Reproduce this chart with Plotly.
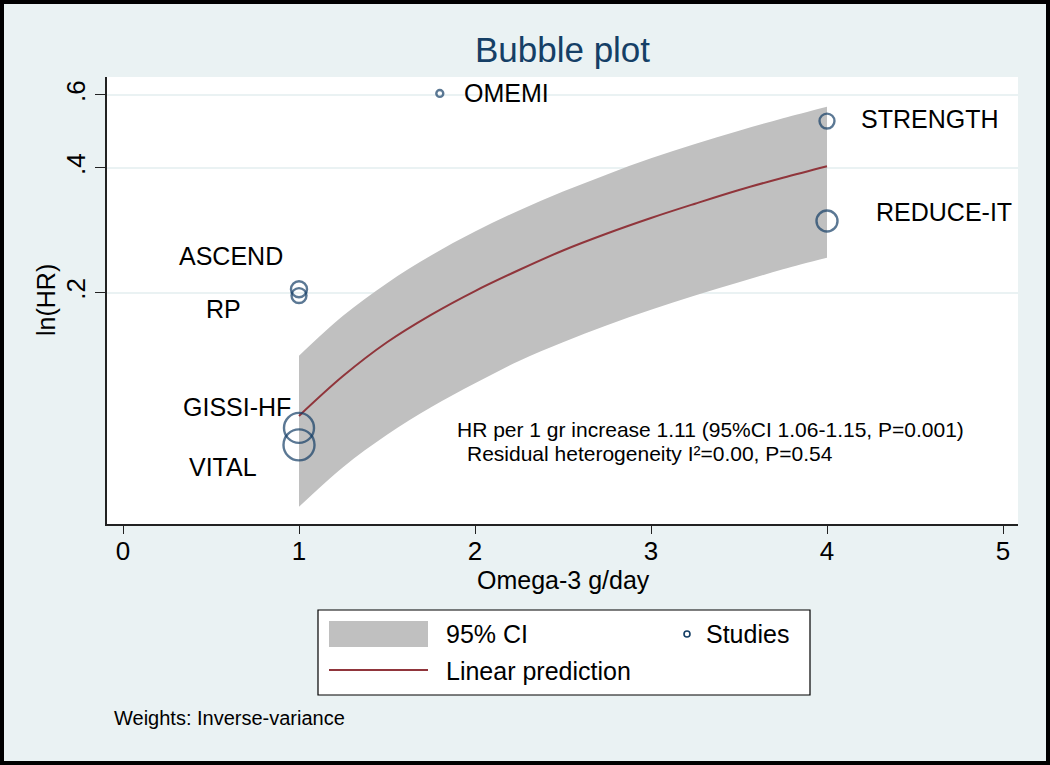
import numpy as np
import plotly.graph_objects as go

# ---------------- data ----------------
studies = ["OMEMI", "STRENGTH", "REDUCE-IT", "ASCEND", "RP", "GISSI-HF", "VITAL"]
dose = [1.8, 4.0, 4.0, 1.0, 1.0, 1.0, 1.0]                     # Omega-3 g/day
lnhr = [0.605, 0.519, 0.298, 0.204, 0.197, 0.0945, 0.086]       # ln(HR)
weights = [1.6, 7.4, 14.6, 8.5, 7.4, 29.8, 31.8]                # inverse-variance weights (relative)

pred_x = [1.0, 1.25, 1.5, 1.75, 2.0, 2.25, 2.5, 2.75, 3.0, 3.25, 3.5, 3.75, 4.0]
pred_y = [0.101, 0.126, 0.152, 0.177, 0.202, 0.227, 0.253, 0.278, 0.303, 0.328, 0.354, 0.379, 0.404]
ci_hi = [0.141, 0.176, 0.211, 0.246, 0.281, 0.316, 0.351, 0.386, 0.422, 0.457, 0.492, 0.527, 0.562]
ci_lo = [0.061, 0.076, 0.091, 0.106, 0.121, 0.137, 0.152, 0.167, 0.182, 0.197, 0.212, 0.228, 0.243]

x_ticks = [0, 1, 2, 3, 4, 5]
y_ticks = [0.2, 0.4, 0.6]
y_ticktext = [".2", ".4", ".6"]

# ---------------- styles ----------------
FONT = "Liberation Sans, Arial, Helvetica, sans-serif"
NAVY = "#153f66"
MAROON = "#90353b"
GRAY = "#c0c0c0"
BG = "#eaf2f3"

# label placement (pixel offsets relative to each marker)
lab_anchor = ["left", "left", "left", "right", "right", "right", "right"]
lab_dx = [22, 32, 47, -14, -56, -6, -40]
lab_dy = [0, 2, 9, 33, -13, 21, -22]

W, H = 1050, 765
ml, mr, mt, mb = 107, 32, 77, 241
pw, ph = W - ml - mr, H - mt - mb

def px2paper_x(px):
    return (px - ml) / pw

def py2paper_y(py):
    return (H - mb - py) / ph

fig = go.Figure()

# CI band
fig.add_trace(go.Scatter(x=pred_x, y=ci_lo, mode="lines", line=dict(width=0, color=GRAY, shape="spline"),
                         showlegend=False, hoverinfo="skip"))
fig.add_trace(go.Scatter(x=pred_x, y=ci_hi, mode="lines", line=dict(width=0, color=GRAY, shape="spline"),
                         fill="tonexty", fillcolor=GRAY, showlegend=False, hoverinfo="skip"))
# prediction line
fig.add_trace(go.Scatter(x=pred_x, y=pred_y, mode="lines",
                         line=dict(width=2, color=MAROON, shape="spline"), showlegend=False))
# studies
sizes = [5.5 * np.sqrt(w) for w in weights]
fig.add_trace(go.Scatter(x=dose, y=lnhr, mode="markers",
                         marker=dict(symbol="circle-open", size=sizes, color=NAVY,
                                     line=dict(width=2.4, color=NAVY)),
                         showlegend=False))

annotations = []
for name, xv, yv, anc, dx, dy in zip(studies, dose, lnhr, lab_anchor, lab_dx, lab_dy):
    annotations.append(dict(x=xv, y=np.log10(yv), xref="x", yref="y", text=name, showarrow=False,
                            xanchor=anc, yanchor="middle", xshift=dx, yshift=dy,
                            font=dict(family=FONT, size=25, color="black")))

# stats text
annotations.append(dict(x=px2paper_x(455), y=py2paper_y(430), xref="paper", yref="paper",
                        text="HR per 1 gr increase 1.11 (95%CI 1.06-1.15, P=0.001)",
                        showarrow=False, xanchor="left", yanchor="middle",
                        font=dict(family=FONT, size=21, color="black")))
annotations.append(dict(x=px2paper_x(465), y=py2paper_y(453), xref="paper", yref="paper",
                        text="Residual heterogeneity I²=0.00, P=0.54",
                        showarrow=False, xanchor="left", yanchor="middle",
                        font=dict(family=FONT, size=21, color="black")))

# axis titles
annotations.append(dict(x=px2paper_x(563), y=py2paper_y(580), xref="paper", yref="paper",
                        text="Omega-3 g/day", showarrow=False, xanchor="center", yanchor="middle",
                        font=dict(family=FONT, size=25, color="black")))
annotations.append(dict(x=px2paper_x(46), y=py2paper_y(300), xref="paper", yref="paper",
                        text="ln(HR)", showarrow=False, xanchor="center", yanchor="middle",
                        textangle=-90, font=dict(family=FONT, size=25, color="black")))

# legend (drawn manually)
annotations.append(dict(x=px2paper_x(444), y=py2paper_y(634), xref="paper", yref="paper",
                        text="95% CI", showarrow=False, xanchor="left", yanchor="middle",
                        font=dict(family=FONT, size=25, color="black")))
annotations.append(dict(x=px2paper_x(444), y=py2paper_y(671), xref="paper", yref="paper",
                        text="Linear prediction", showarrow=False, xanchor="left", yanchor="middle",
                        font=dict(family=FONT, size=25, color="black")))
annotations.append(dict(x=px2paper_x(704), y=py2paper_y(634), xref="paper", yref="paper",
                        text="Studies", showarrow=False, xanchor="left", yanchor="middle",
                        font=dict(family=FONT, size=25, color="black")))
# note
annotations.append(dict(x=px2paper_x(112), y=py2paper_y(718), xref="paper", yref="paper",
                        text="Weights: Inverse-variance", showarrow=False, xanchor="left", yanchor="middle",
                        font=dict(family=FONT, size=20, color="black")))

shapes = [
    # outer border
    dict(type="rect", xref="paper", yref="paper",
         x0=px2paper_x(2), x1=px2paper_x(1048), y0=py2paper_y(763), y1=py2paper_y(2),
         line=dict(color="black", width=4), fillcolor="rgba(0,0,0,0)", layer="above"),
    # legend box
    dict(type="rect", xref="paper", yref="paper",
         x0=px2paper_x(318), x1=px2paper_x(810), y0=py2paper_y(695), y1=py2paper_y(610),
         line=dict(color="black", width=1.2), fillcolor="white", layer="below"),
    dict(type="rect", xref="paper", yref="paper",
         x0=px2paper_x(329), x1=px2paper_x(428), y0=py2paper_y(647), y1=py2paper_y(621),
         line=dict(width=0), fillcolor=GRAY, layer="above"),
    dict(type="line", xref="paper", yref="paper",
         x0=px2paper_x(329), x1=px2paper_x(428), y0=py2paper_y(670), y1=py2paper_y(670),
         line=dict(color=MAROON, width=2), layer="above"),
    dict(type="circle", xref="paper", yref="paper",
         x0=px2paper_x(684), x1=px2paper_x(690), y0=py2paper_y(637), y1=py2paper_y(631),
         line=dict(color=NAVY, width=1.6), fillcolor="rgba(0,0,0,0)", layer="above"),
]

fig.update_layout(
    width=W, height=H,
    margin=dict(l=ml, r=mr, t=mt, b=mb, autoexpand=False),
    paper_bgcolor=BG, plot_bgcolor="white",
    showlegend=False,
    title=dict(text="Bubble plot", x=0.5, xref="paper", xanchor="center",
               y=1 - 50 / H, yref="container", yanchor="middle",
               font=dict(family=FONT, size=35, color=NAVY)),
    font=dict(family=FONT, color="black"),
    annotations=annotations,
    shapes=shapes,
    xaxis=dict(range=[-16 / 176, 5 + 15 / 176], tickvals=x_ticks, ticks="outside", ticklen=8,
               tickwidth=1.2, tickcolor="#222", showline=True, linecolor="#222", linewidth=1.5,
               showgrid=False, zeroline=False, ticklabelstandoff=-5,
               tickfont=dict(family=FONT, size=26, color="black")),
    yaxis=dict(type="log", range=[np.log10(0.05543), np.log10(0.6628)], tickvals=y_ticks,
               ticktext=y_ticktext, ticks="outside", ticklen=10, tickwidth=1.2, tickcolor="#222",
               showline=True, linecolor="#222", linewidth=1.5, showgrid=True, gridcolor=BG,
               gridwidth=1.5, zeroline=False, tickangle=-90,
               tickfont=dict(family=FONT, size=26, color="black")),
)

fig.write_html("out.html", config={"displayModeBar": False},
               post_script="document.body.style.margin='0';document.body.style.padding='0';"
                           "document.body.style.overflow='hidden';")
